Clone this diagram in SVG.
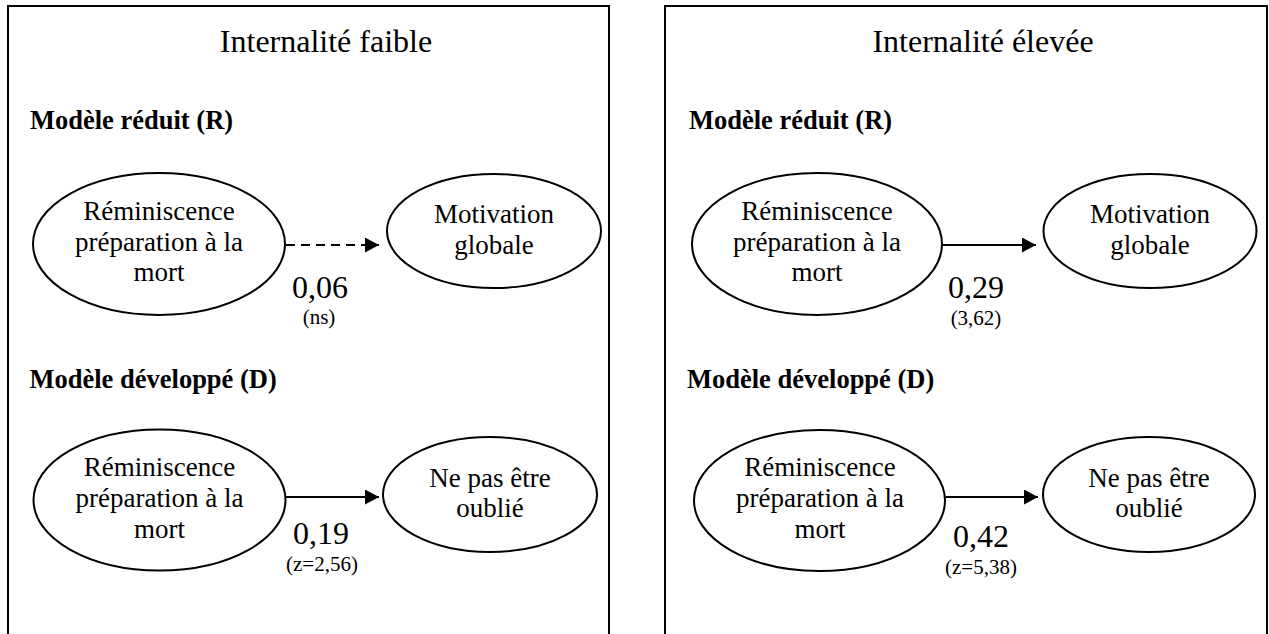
<svg xmlns="http://www.w3.org/2000/svg" width="1269" height="634" viewBox="0 0 1269 634">
  <style>
    .panel { fill: #ffffff; stroke: #000000; stroke-width: 2; }
    .node { fill: #ffffff; stroke: #000000; stroke-width: 2; }
    .title { font-family: "Liberation Serif", "Times New Roman", serif; font-size: 32px; fill: #000; text-anchor: middle; }
    .head { font-family: "Liberation Serif", "Times New Roman", serif; font-size: 26.5px; font-weight: bold; fill: #000; }
    .lbl { font-family: "Liberation Serif", "Times New Roman", serif; font-size: 27px; fill: #000; text-anchor: middle; }
    .coef { font-family: "Liberation Serif", "Times New Roman", serif; font-size: 32px; fill: #000; text-anchor: middle; }
    .stat { font-family: "Liberation Serif", "Times New Roman", serif; font-size: 21px; fill: #000; text-anchor: middle; }
    .edge { fill: none; stroke: #000000; stroke-width: 2; }
    .dashed { stroke-dasharray: 9 6; }
  </style>
  <defs>
    <marker id="arrow" viewBox="0 0 14 15" refX="14" refY="7.5" markerWidth="14" markerHeight="15" markerUnits="userSpaceOnUse" orient="auto">
      <path d="M0,0 L14,7.5 L0,15 Z" fill="#000000"/>
    </marker>
  </defs>

  <rect width="1269" height="634" fill="#ffffff"/>

  <!-- Panels -->
  <g id="panel-faible">
    <rect class="panel" x="8" y="6" width="601" height="640"/>
    <text class="title" x="326" y="52">Internalité faible</text>
    <text class="head" x="30" y="129">Modèle réduit (R)</text>
    <text class="head" x="29.5" y="388">Modèle développé (D)</text>
  </g>
  <g id="panel-elevee">
    <rect class="panel" x="665" y="6" width="602" height="640"/>
    <text class="title" x="983" y="52">Internalité élevée</text>
    <text class="head" x="689" y="129">Modèle réduit (R)</text>
    <text class="head" x="687" y="388">Modèle développé (D)</text>
  </g>

  <!-- Connectors -->
  <g id="connectors">
    <g id="edge-L-R">
      <line class="edge dashed" x1="286" y1="245" x2="379" y2="245" marker-end="url(#arrow)"/>
      <text class="coef" x="320" y="298">0,06</text>
      <text class="stat" x="319" y="324">(ns)</text>
    </g>
    <g id="edge-L-D">
      <line class="edge" x1="285" y1="497" x2="379" y2="497" marker-end="url(#arrow)"/>
      <text class="coef" x="321" y="544">0,19</text>
      <text class="stat" x="322" y="571">(z=2,56)</text>
    </g>
    <g id="edge-H-R">
      <line class="edge" x1="942" y1="245" x2="1036" y2="245" marker-end="url(#arrow)"/>
      <text class="coef" x="976" y="298">0,29</text>
      <text class="stat" x="976" y="325">(3,62)</text>
    </g>
    <g id="edge-H-D">
      <line class="edge" x1="945" y1="497" x2="1038" y2="497" marker-end="url(#arrow)"/>
      <text class="coef" x="981" y="547">0,42</text>
      <text class="stat" x="981" y="574">(z=5,38)</text>
    </g>
  </g>

  <!-- Nodes: Internalité faible -->
  <g id="node-L-R-rem">
    <ellipse class="node" cx="159" cy="244" rx="126" ry="71"/>
    <text class="lbl" x="159" y="220">Réminiscence</text>
    <text class="lbl" x="159" y="251">préparation à la</text>
    <text class="lbl" x="159" y="281">mort</text>
  </g>
  <g id="node-L-R-mot">
    <ellipse class="node" cx="494" cy="231" rx="107" ry="57"/>
    <text class="lbl" x="494" y="223">Motivation</text>
    <text class="lbl" x="494" y="254">globale</text>
  </g>
  <g id="node-L-D-rem">
    <ellipse class="node" cx="159.5" cy="500" rx="126" ry="70.5"/>
    <text class="lbl" x="159.5" y="476">Réminiscence</text>
    <text class="lbl" x="159.5" y="507">préparation à la</text>
    <text class="lbl" x="159.5" y="538">mort</text>
  </g>
  <g id="node-L-D-oub">
    <ellipse class="node" cx="490" cy="494.5" rx="107" ry="57.5"/>
    <text class="lbl" x="490" y="487">Ne pas être</text>
    <text class="lbl" x="490" y="517">oublié</text>
  </g>

  <!-- Nodes: Internalité élevée -->
  <g id="node-H-R-rem">
    <ellipse class="node" cx="817" cy="244" rx="125" ry="71"/>
    <text class="lbl" x="817" y="220">Réminiscence</text>
    <text class="lbl" x="817" y="251">préparation à la</text>
    <text class="lbl" x="817" y="281">mort</text>
  </g>
  <g id="node-H-R-mot">
    <ellipse class="node" cx="1150" cy="231" rx="106.5" ry="57"/>
    <text class="lbl" x="1150" y="223">Motivation</text>
    <text class="lbl" x="1150" y="254">globale</text>
  </g>
  <g id="node-H-D-rem">
    <ellipse class="node" cx="819.5" cy="500.5" rx="125.5" ry="70.5"/>
    <text class="lbl" x="820" y="476">Réminiscence</text>
    <text class="lbl" x="820" y="507">préparation à la</text>
    <text class="lbl" x="820" y="538">mort</text>
  </g>
  <g id="node-H-D-oub">
    <ellipse class="node" cx="1149" cy="494.5" rx="106" ry="57.5"/>
    <text class="lbl" x="1149" y="487">Ne pas être</text>
    <text class="lbl" x="1149" y="517">oublié</text>
  </g>
</svg>
